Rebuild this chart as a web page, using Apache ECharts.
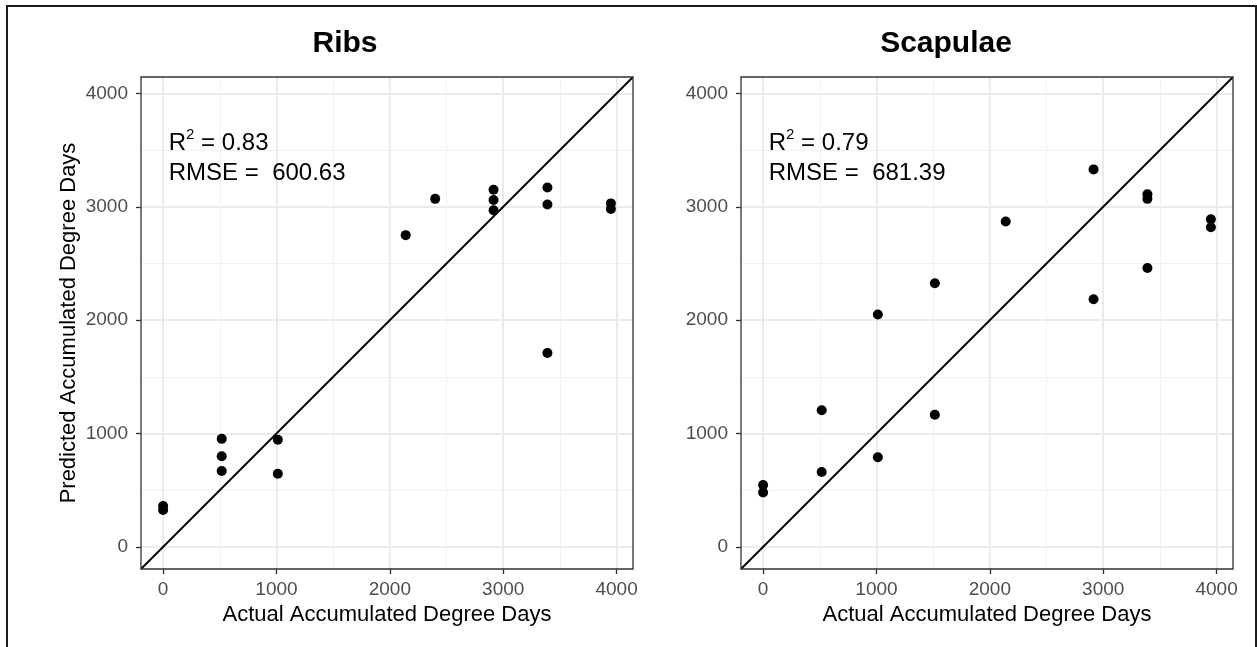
<!DOCTYPE html>
<html>
<head>
<meta charset="utf-8">
<script src="https://cdn.jsdelivr.net/npm/echarts@6/dist/echarts.min.js"></script>
<style>
  html, body { margin: 0; padding: 0; background: #ffffff; }
  #chart { width: 1257px; height: 647px; }
</style>
</head>
<body>
<div id="chart"></div>
<script>
// Shared axis ticks and limits (both axes use the same scale)
const axisTicks = [0, 1000, 2000, 3000, 4000];
const axisRange = [-195, 4145];

const panelTitles = ['Ribs', 'Scapulae'];
const xTitle = 'Actual Accumulated Degree Days';
const yTitle = 'Predicted Accumulated Degree Days';

// Ribs: actual vs predicted accumulated degree days
const ribsActual    = [0, 0, 517, 517, 517, 1012, 1012, 2140, 2400, 2915, 2915, 2915, 3390, 3390, 3390, 3950, 3950];
const ribsPredicted = [360, 325, 953, 800, 670, 945, 645, 2750, 3070, 3150, 3060, 2970, 3170, 3020, 1710, 3030, 2980];

// Scapulae: actual vs predicted accumulated degree days
const scapActual    = [0, 0, 517, 517, 1012, 1012, 1515, 1515, 2140, 2915, 2915, 3390, 3390, 3390, 3950, 3950];
const scapPredicted = [545, 480, 1205, 660, 2050, 790, 2325, 1165, 2870, 3330, 2185, 3110, 3070, 2460, 2890, 2820];

// Fit statistics shown in each panel
const fitR2   = ['0.83', '0.79'];
const fitRmse = ['600.63', '681.39'];

const FONT = '"Liberation Sans", Arial, Helvetica, sans-serif';

function pairs(xs, ys) {
  return xs.map((x, i) => [x, ys[i]]);
}

function valueAxis(gridIndex, isX, name) {
  return {
    type: 'value',
    gridIndex: gridIndex,
    min: axisRange[0],
    max: axisRange[1],
    splitNumber: 5,
    name: name,
    nameLocation: 'middle',
    nameGap: isX ? 32 : 61,
    nameTextStyle: { fontFamily: FONT, fontSize: 22, color: '#000000' },
    axisLine: { show: false, onZero: false },
    axisTick: {
      show: true, length: 5, customValues: axisTicks,
      lineStyle: { color: '#333333', width: 1.3 }
    },
    axisLabel: {
      customValues: axisTicks,
      fontFamily: FONT, fontSize: 19, color: '#4d4d4d',
      margin: isX ? 11 : 13,
      formatter: v => String(v)
    },
    splitLine: { show: true, lineStyle: { color: '#ebebeb', width: 2 } },
    minorTick: { show: false, splitNumber: 2 },
    minorSplitLine: { show: true, lineStyle: { color: '#f1f1f1', width: 1 } }
  };
}

const grids = [
  { left: 141, top: 77, width: 492, height: 492 },
  { left: 741, top: 77, width: 492, height: 492 }
].map(g => Object.assign(g, {
  show: true, z: 5, backgroundColor: 'transparent',
  borderColor: '#333333', borderWidth: 1.3
}));

const panels = [pairs(ribsActual, ribsPredicted), pairs(scapActual, scapPredicted)];

const series = [];
panels.forEach((data, i) => {
  // 1:1 reference line across the full axis range
  series.push({
    type: 'line', xAxisIndex: i, yAxisIndex: i,
    data: [[axisRange[0], axisRange[0]], [axisRange[1], axisRange[1]]],
    symbol: 'none', silent: true, clip: true, z: 2,
    lineStyle: { color: '#000000', width: 2 }
  });
  series.push({
    type: 'scatter', xAxisIndex: i, yAxisIndex: i,
    data: data, symbol: 'circle', symbolSize: 10, z: 3,
    itemStyle: { color: '#000000', opacity: 1 }
  });
});

const chart = echarts.init(document.getElementById('chart'), null, { renderer: 'canvas' });

chart.setOption({
  animation: false,
  backgroundColor: '#ffffff',
  grid: grids,
  xAxis: [valueAxis(0, true, xTitle), valueAxis(1, true, xTitle)],
  yAxis: [valueAxis(0, false, yTitle), valueAxis(1, false, '')],
  series: series
});

// Titles, fit statistics and the outer frame
const graphics = [
  {
    type: 'rect', silent: true, z: 10,
    shape: { x: 7, y: 6, width: 1249, height: 700 },
    style: { fill: 'none', stroke: '#1a1a1a', lineWidth: 2 }
  },
  {
    type: 'text', x: 345, y: 44, z: 10,
    style: { text: panelTitles[0], font: 'bold 30px ' + FONT, fill: '#000', align: 'center', verticalAlign: 'middle' }
  },
  {
    type: 'text', x: 946, y: 44, z: 10,
    style: { text: panelTitles[1], font: 'bold 30px ' + FONT, fill: '#000', align: 'center', verticalAlign: 'middle' }
  }
];

[0, 1].forEach(i => {
  const p1 = chart.convertToPixel({ gridIndex: i }, [50, 3557]);
  const p2 = chart.convertToPixel({ gridIndex: i }, [50, 3293]);
  graphics.push({
    type: 'text', x: p1[0], y: p1[1], z: 10,
    style: {
      text: '{m|R}{s|2}{m| = ' + fitR2[i] + '}',
      verticalAlign: 'middle', align: 'left',
      rich: {
        m: { fontFamily: FONT, fontSize: 24, lineHeight: 32, fill: '#000' },
        s: { fontFamily: FONT, fontSize: 15, lineHeight: 15, fill: '#000', verticalAlign: 'top' }
      }
    }
  });
  graphics.push({
    type: 'text', x: p2[0], y: p2[1], z: 10,
    style: {
      text: 'RMSE =  ' + fitRmse[i],
      font: '24px ' + FONT, fill: '#000',
      verticalAlign: 'middle', align: 'left'
    }
  });
});

chart.setOption({ graphic: graphics });
</script>
</body>
</html>
